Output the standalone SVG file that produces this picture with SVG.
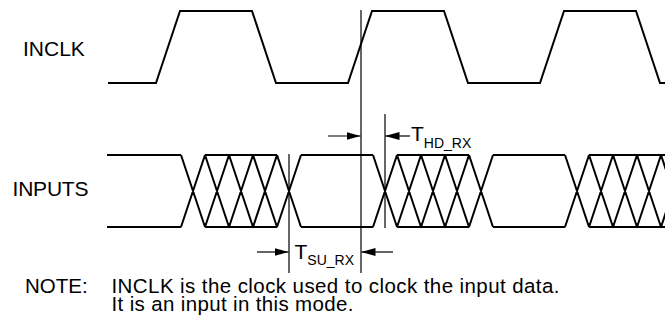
<svg xmlns="http://www.w3.org/2000/svg" width="665" height="326" viewBox="0 0 665 326">
<style>
.wave{fill:none;stroke:#000;stroke-width:2;stroke-linejoin:miter}
.mark{fill:none;stroke:#000;stroke-width:1.2}
.arr{fill:none;stroke:#000;stroke-width:1.2;marker-end:url(#ah)}
text{font-family:"Liberation Sans",Arial,Helvetica,sans-serif;font-size:21px;fill:#000}
.sub{font-size:14px}
.note{font-size:20.5px}
</style>
<defs>
<marker id="ah" viewBox="0 0 14 8" refX="14" refY="4" markerWidth="14" markerHeight="8" markerUnits="userSpaceOnUse" orient="auto">
<path d="M0,0 L14,4 L0,8 Z" fill="#000"/>
</marker>
</defs>
<rect width="665" height="326" fill="#fff"/>
<g id="inclk-label"><text x="23" y="56">INCLK</text></g>
<g id="inputs-label"><text x="12.5" y="196" textLength="76">INPUTS</text></g>
<g id="inclk-wave">
<path class="wave" d="M108,83 H156 L180,11 H252 L276,83 H348 L372,11 H444 L468,83 H540 L564,11 H636 L660,83 H666"/>
</g>
<g id="inputs-wave">
<path class="wave" d="M107,155 H181 M205,155 H277 M301,155 H373 M397,155 H469 M493,155 H565 M589,155 H666 M107,227 H181 M205,227 H277 M301,227 H373 M397,227 H469 M493,227 H565 M589,227 H666
M181,155 L205,227 M181,227 L205,155 M205,155 L229,227 M205,227 L229,155 M229,155 L253,227 M229,227 L253,155 M253,155 L277,227 M253,227 L277,155 M277,155 L301,227 M277,227 L301,155
M373,155 L397,227 M373,227 L397,155 M397,155 L421,227 M397,227 L421,155 M421,155 L445,227 M421,227 L445,155 M445,155 L469,227 M445,227 L469,155 M469,155 L493,227 M469,227 L493,155
M565,155 L589,227 M565,227 L589,155 M589,155 L613,227 M589,227 L613,155 M613,155 L637,227 M613,227 L637,155 M637,155 L661,227 M637,227 L661,155 M661,155 L685,227 M661,227 L685,155"/>
</g>
<g id="connectors">
<line class="mark" x1="361" y1="10" x2="361" y2="273"/>
<line class="mark" x1="289" y1="154" x2="289" y2="273"/>
<line class="mark" x1="385" y1="114" x2="385" y2="228"/>
<line class="arr" x1="328" y1="136" x2="360.5" y2="136"/>
<line class="arr" x1="410" y1="136" x2="385.5" y2="136"/>
<line class="arr" x1="257" y1="252" x2="288.5" y2="252"/>
<line class="arr" x1="393" y1="252" x2="361.5" y2="252"/>
</g>
<g id="thd-label"><text x="411" y="141">T<tspan class="sub" dy="6.5">HD_RX</tspan></text></g>
<g id="tsu-label"><text x="294.5" y="258.5">T<tspan class="sub" dy="6">SU_RX</tspan></text></g>
<g id="note">
<text class="note" x="25" y="293">NOTE:</text>
<text class="note" x="111.5" y="293" textLength="448">INCLK is the clock used to clock the input data.</text>
<text class="note" x="111.5" y="310.5" textLength="242">It is an input in this mode.</text>
</g>
</svg>
